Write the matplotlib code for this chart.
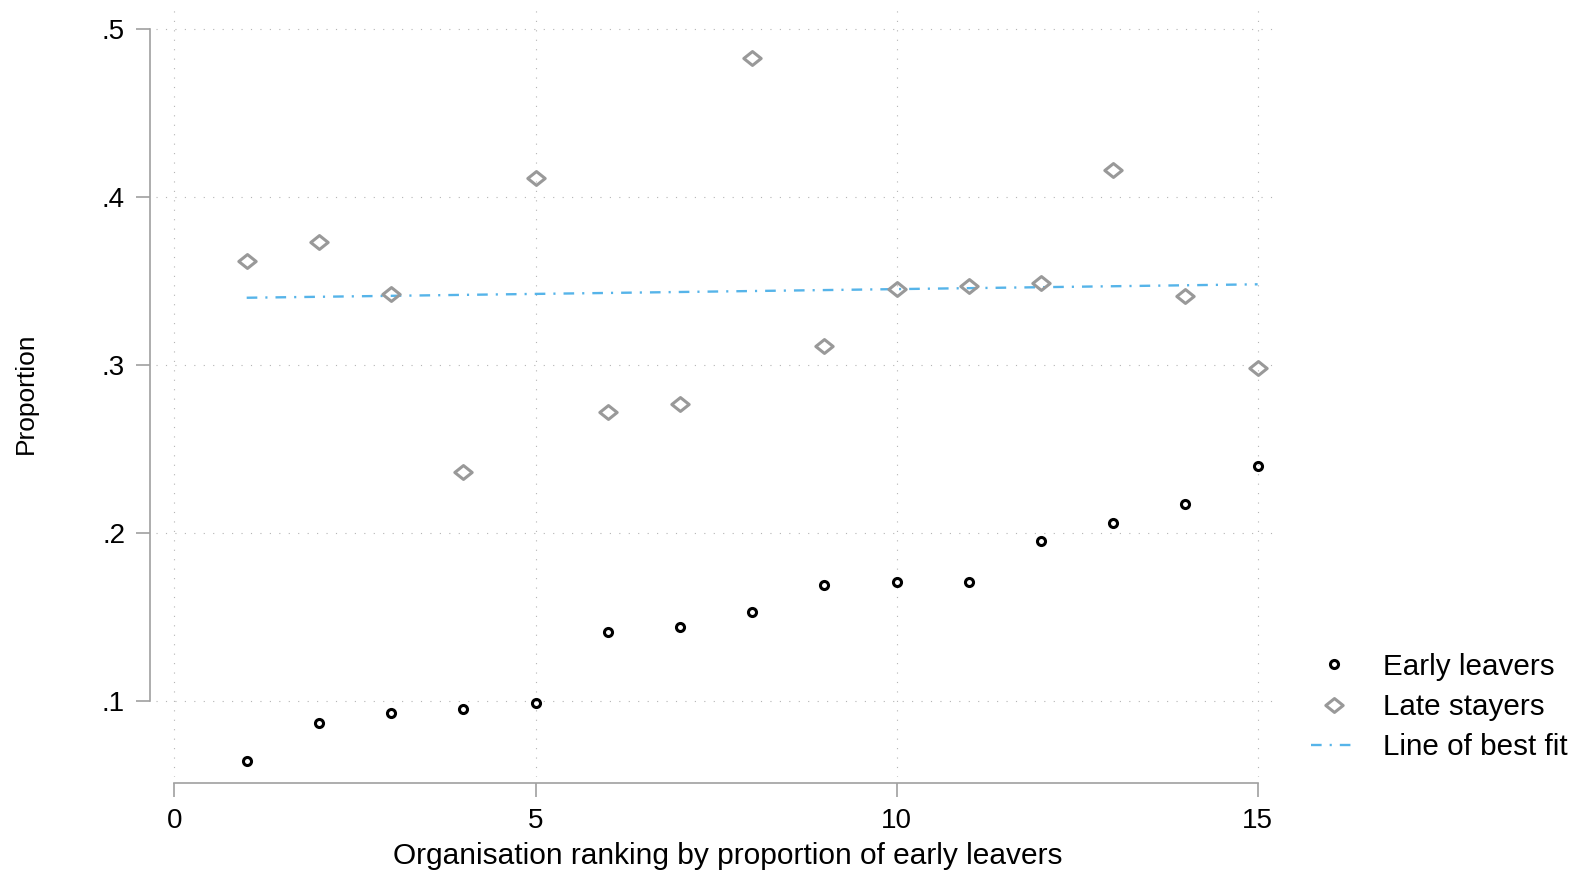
import matplotlib
matplotlib.use("Agg")
import matplotlib.pyplot as plt
from matplotlib.path import Path

plt.rcParams['font.family'] = ['Liberation Sans', 'DejaVu Sans']

# Datos
ranking = [1, 2, 3, 4, 5, 6, 7, 8, 9, 10, 11, 12, 13, 14, 15]
early_leavers = [0.064, 0.087, 0.093, 0.095, 0.099, 0.141, 0.144, 0.153,
                 0.169, 0.171, 0.171, 0.195, 0.206, 0.217, 0.240]
late_stayers = [0.362, 0.373, 0.342, 0.236, 0.411, 0.272, 0.277, 0.483,
                0.311, 0.345, 0.347, 0.349, 0.416, 0.341, 0.298]
fit_x = [1, 15]
fit_y = [0.340, 0.348]

xticks = [0, 5, 10, 15]
yticks = [0.1, 0.2, 0.3, 0.4, 0.5]
ytick_labels = ['.1', '.2', '.3', '.4', '.5']

W, H = 1581, 872
fig = plt.figure(figsize=(W / 100, H / 100), dpi=100)
ax = fig.add_axes([156 / W, 1 - 777 / H, (1280 - 156) / W, (777 - 10) / H])

# Rombo algo mas ancho que alto
diamond = Path([(-1, 0), (0, 0.8), (1, 0), (0, -0.8), (-1, 0)],
               [Path.MOVETO, Path.LINETO, Path.LINETO, Path.LINETO, Path.CLOSEPOLY])

ax.plot(ranking, early_leavers, linestyle='none', marker='o', markersize=5.8,
        markeredgewidth=2.2, markerfacecolor='none', markeredgecolor='black',
        label='Early leavers', zorder=3)
ax.plot(ranking, late_stayers, linestyle='none', marker=diamond, markersize=12.5,
        markeredgewidth=2.2, markerfacecolor='none', markeredgecolor='#999999',
        label='Late stayers', zorder=3)
ax.plot(fit_x, fit_y, color='#56b4e9', linewidth=1.7,
        linestyle=(0, (4.5, 3.4, 0.9, 3.4)), label='Line of best fit', zorder=2)

ax.set_xlim(-0.256, 15.31)
ax.set_ylim(0.0547, 0.5113)

ax.set_xticks(xticks)
ax.set_yticks(yticks)
ax.set_yticklabels(ytick_labels)

# Rejilla punteada
ax.grid(True, color='#b4b4b4', linewidth=0.8, linestyle=(0, (1, 7.5)))
ax.set_axisbelow(True)

# Ejes al estilo Stata
for s in ['top', 'right']:
    ax.spines[s].set_visible(False)
ax.spines['left'].set_position(('outward', 4.3))
ax.spines['bottom'].set_position(('outward', 4.3))
ax.spines['left'].set_bounds(0.1, 0.5)
ax.spines['bottom'].set_bounds(0, 15)
for s in ['left', 'bottom']:
    ax.spines[s].set_color('#a0a0a0')
    ax.spines[s].set_linewidth(1.2)

ax.tick_params(axis='both', direction='out', length=10, width=1.2,
               color='#a0a0a0', labelsize=20, pad=8)

ax.set_xlabel('Organisation ranking by proportion of early leavers', fontsize=21.5)
ax.set_ylabel('Proportion', fontsize=19)
ax.xaxis.set_label_coords(0.509, -0.103)
ax.xaxis.label.set_va('center')
ax.yaxis.set_label_coords(-0.116, 0.5)
ax.yaxis.label.set_va('center')

fig.legend(loc='center left', bbox_to_anchor=(1311 / W, 1 - 707 / H),
           frameon=False, fontsize=21.3, handlelength=1.53, handletextpad=0.89,
           labelspacing=0.42, borderpad=0, borderaxespad=0)

fig.savefig('out.png', dpi=100)
